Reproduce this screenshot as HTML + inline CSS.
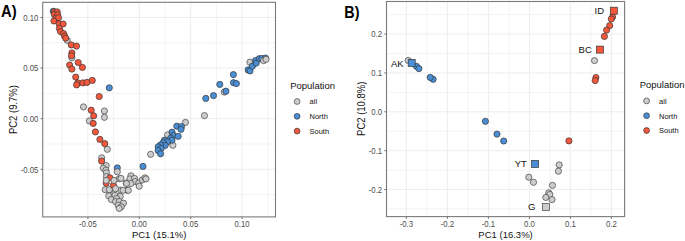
<!DOCTYPE html>
<html><head><meta charset="utf-8"><style>
html,body{margin:0;padding:0;background:#fff;}
body{width:685px;height:241px;overflow:hidden;}
svg{display:block;}
text{font-family:"Liberation Sans",sans-serif;}
.tk{font-size:7.8px;fill:#4d4d4d;}
.at{font-size:9.5px;fill:#111;}
.lt{font-size:7.45px;fill:#111;}
.lab{font-size:9.5px;fill:#111;}
.tag{font-size:16px;font-weight:bold;fill:#000;}
</style></head><body>
<svg width="685" height="241" viewBox="0 0 685 241">
<rect width="685" height="241" fill="#fff"/>
<rect x="42.7" y="2.3" width="232.8" height="214.6" fill="#fff"/>
<line x1="62.20" y1="2.3" x2="62.20" y2="216.9" stroke="#EFEFEF" stroke-width="0.75"/>
<line x1="113.60" y1="2.3" x2="113.60" y2="216.9" stroke="#EFEFEF" stroke-width="0.75"/>
<line x1="165.00" y1="2.3" x2="165.00" y2="216.9" stroke="#EFEFEF" stroke-width="0.75"/>
<line x1="216.40" y1="2.3" x2="216.40" y2="216.9" stroke="#EFEFEF" stroke-width="0.75"/>
<line x1="267.80" y1="2.3" x2="267.80" y2="216.9" stroke="#EFEFEF" stroke-width="0.75"/>
<line x1="42.7" y1="194.60" x2="275.5" y2="194.60" stroke="#EFEFEF" stroke-width="0.75"/>
<line x1="42.7" y1="144.00" x2="275.5" y2="144.00" stroke="#EFEFEF" stroke-width="0.75"/>
<line x1="42.7" y1="93.40" x2="275.5" y2="93.40" stroke="#EFEFEF" stroke-width="0.75"/>
<line x1="42.7" y1="42.80" x2="275.5" y2="42.80" stroke="#EFEFEF" stroke-width="0.75"/>
<line x1="87.90" y1="2.3" x2="87.90" y2="216.9" stroke="#EBEBEB" stroke-width="0.9"/>
<line x1="139.30" y1="2.3" x2="139.30" y2="216.9" stroke="#EBEBEB" stroke-width="0.9"/>
<line x1="190.70" y1="2.3" x2="190.70" y2="216.9" stroke="#EBEBEB" stroke-width="0.9"/>
<line x1="242.10" y1="2.3" x2="242.10" y2="216.9" stroke="#EBEBEB" stroke-width="0.9"/>
<line x1="42.7" y1="169.30" x2="275.5" y2="169.30" stroke="#EBEBEB" stroke-width="0.9"/>
<line x1="42.7" y1="118.70" x2="275.5" y2="118.70" stroke="#EBEBEB" stroke-width="0.9"/>
<line x1="42.7" y1="68.10" x2="275.5" y2="68.10" stroke="#EBEBEB" stroke-width="0.9"/>
<line x1="42.7" y1="17.50" x2="275.5" y2="17.50" stroke="#EBEBEB" stroke-width="0.9"/>
<rect x="386.5" y="1.5" width="238.10000000000002" height="215.1" fill="#fff"/>
<line x1="426.90" y1="1.5" x2="426.90" y2="216.6" stroke="#EFEFEF" stroke-width="0.75"/>
<line x1="467.90" y1="1.5" x2="467.90" y2="216.6" stroke="#EFEFEF" stroke-width="0.75"/>
<line x1="508.90" y1="1.5" x2="508.90" y2="216.6" stroke="#EFEFEF" stroke-width="0.75"/>
<line x1="549.90" y1="1.5" x2="549.90" y2="216.6" stroke="#EFEFEF" stroke-width="0.75"/>
<line x1="590.90" y1="1.5" x2="590.90" y2="216.6" stroke="#EFEFEF" stroke-width="0.75"/>
<line x1="386.5" y1="208.93" x2="624.6" y2="208.93" stroke="#EFEFEF" stroke-width="0.75"/>
<line x1="386.5" y1="170.07" x2="624.6" y2="170.07" stroke="#EFEFEF" stroke-width="0.75"/>
<line x1="386.5" y1="131.22" x2="624.6" y2="131.22" stroke="#EFEFEF" stroke-width="0.75"/>
<line x1="386.5" y1="92.38" x2="624.6" y2="92.38" stroke="#EFEFEF" stroke-width="0.75"/>
<line x1="386.5" y1="53.52" x2="624.6" y2="53.52" stroke="#EFEFEF" stroke-width="0.75"/>
<line x1="386.5" y1="14.67" x2="624.6" y2="14.67" stroke="#EFEFEF" stroke-width="0.75"/>
<line x1="406.40" y1="1.5" x2="406.40" y2="216.6" stroke="#EBEBEB" stroke-width="0.9"/>
<line x1="447.40" y1="1.5" x2="447.40" y2="216.6" stroke="#EBEBEB" stroke-width="0.9"/>
<line x1="488.40" y1="1.5" x2="488.40" y2="216.6" stroke="#EBEBEB" stroke-width="0.9"/>
<line x1="529.40" y1="1.5" x2="529.40" y2="216.6" stroke="#EBEBEB" stroke-width="0.9"/>
<line x1="570.40" y1="1.5" x2="570.40" y2="216.6" stroke="#EBEBEB" stroke-width="0.9"/>
<line x1="611.40" y1="1.5" x2="611.40" y2="216.6" stroke="#EBEBEB" stroke-width="0.9"/>
<line x1="386.5" y1="189.50" x2="624.6" y2="189.50" stroke="#EBEBEB" stroke-width="0.9"/>
<line x1="386.5" y1="150.65" x2="624.6" y2="150.65" stroke="#EBEBEB" stroke-width="0.9"/>
<line x1="386.5" y1="111.80" x2="624.6" y2="111.80" stroke="#EBEBEB" stroke-width="0.9"/>
<line x1="386.5" y1="72.95" x2="624.6" y2="72.95" stroke="#EBEBEB" stroke-width="0.9"/>
<line x1="386.5" y1="34.10" x2="624.6" y2="34.10" stroke="#EBEBEB" stroke-width="0.9"/>
<g>
<circle cx="67.2" cy="40.3" r="3.1" fill="#CDCDCD" stroke="#444444" stroke-width="0.7"/>
<circle cx="71.9" cy="57.8" r="3.1" fill="#CDCDCD" stroke="#444444" stroke-width="0.7"/>
<circle cx="83.5" cy="106.9" r="3.1" fill="#CDCDCD" stroke="#444444" stroke-width="0.7"/>
<circle cx="104.4" cy="111" r="3.1" fill="#CDCDCD" stroke="#444444" stroke-width="0.7"/>
<circle cx="104.4" cy="117.3" r="3.1" fill="#CDCDCD" stroke="#444444" stroke-width="0.7"/>
<circle cx="89.4" cy="120.9" r="3.1" fill="#CDCDCD" stroke="#444444" stroke-width="0.7"/>
<circle cx="107.3" cy="149.3" r="3.1" fill="#CDCDCD" stroke="#444444" stroke-width="0.7"/>
<circle cx="101.7" cy="157.8" r="3.1" fill="#CDCDCD" stroke="#444444" stroke-width="0.7"/>
<circle cx="106.2" cy="165.6" r="3.1" fill="#CDCDCD" stroke="#444444" stroke-width="0.7"/>
<circle cx="103.3" cy="168.2" r="3.1" fill="#CDCDCD" stroke="#444444" stroke-width="0.7"/>
<circle cx="105.9" cy="170.2" r="3.1" fill="#CDCDCD" stroke="#444444" stroke-width="0.7"/>
<circle cx="106.4" cy="172.8" r="3.1" fill="#CDCDCD" stroke="#444444" stroke-width="0.7"/>
<circle cx="106.5" cy="176.5" r="3.1" fill="#CDCDCD" stroke="#444444" stroke-width="0.7"/>
<circle cx="119.2" cy="178.8" r="3.1" fill="#CDCDCD" stroke="#444444" stroke-width="0.7"/>
<circle cx="121" cy="178.4" r="3.1" fill="#CDCDCD" stroke="#444444" stroke-width="0.7"/>
<circle cx="105.2" cy="189.7" r="3.1" fill="#CDCDCD" stroke="#444444" stroke-width="0.7"/>
<circle cx="109.9" cy="190.2" r="3.1" fill="#CDCDCD" stroke="#444444" stroke-width="0.7"/>
<circle cx="120.8" cy="190.2" r="3.1" fill="#CDCDCD" stroke="#444444" stroke-width="0.7"/>
<circle cx="127" cy="190.2" r="3.1" fill="#CDCDCD" stroke="#444444" stroke-width="0.7"/>
<circle cx="123.1" cy="190.3" r="3.1" fill="#CDCDCD" stroke="#444444" stroke-width="0.7"/>
<circle cx="128.3" cy="190.3" r="3.1" fill="#CDCDCD" stroke="#444444" stroke-width="0.7"/>
<circle cx="109.3" cy="189.7" r="3.1" fill="#CDCDCD" stroke="#444444" stroke-width="0.7"/>
<circle cx="108.8" cy="195.9" r="3.1" fill="#CDCDCD" stroke="#444444" stroke-width="0.7"/>
<circle cx="115" cy="195.4" r="3.1" fill="#CDCDCD" stroke="#444444" stroke-width="0.7"/>
<circle cx="120.2" cy="196.4" r="3.1" fill="#CDCDCD" stroke="#444444" stroke-width="0.7"/>
<circle cx="111.4" cy="199.5" r="3.1" fill="#CDCDCD" stroke="#444444" stroke-width="0.7"/>
<circle cx="116.6" cy="198.5" r="3.1" fill="#CDCDCD" stroke="#444444" stroke-width="0.7"/>
<circle cx="115.6" cy="201.6" r="3.1" fill="#CDCDCD" stroke="#444444" stroke-width="0.7"/>
<circle cx="119.2" cy="201.6" r="3.1" fill="#CDCDCD" stroke="#444444" stroke-width="0.7"/>
<circle cx="123.4" cy="203.2" r="3.1" fill="#CDCDCD" stroke="#444444" stroke-width="0.7"/>
<circle cx="118.2" cy="205.2" r="3.1" fill="#CDCDCD" stroke="#444444" stroke-width="0.7"/>
<circle cx="121.3" cy="206.8" r="3.1" fill="#CDCDCD" stroke="#444444" stroke-width="0.7"/>
<circle cx="119.2" cy="208.4" r="3.1" fill="#CDCDCD" stroke="#444444" stroke-width="0.7"/>
<circle cx="130.9" cy="175.8" r="3.1" fill="#CDCDCD" stroke="#444444" stroke-width="0.7"/>
<circle cx="129.9" cy="178.9" r="3.1" fill="#CDCDCD" stroke="#444444" stroke-width="0.7"/>
<circle cx="134.5" cy="178.4" r="3.1" fill="#CDCDCD" stroke="#444444" stroke-width="0.7"/>
<circle cx="135.1" cy="181.5" r="3.1" fill="#CDCDCD" stroke="#444444" stroke-width="0.7"/>
<circle cx="126.2" cy="183.1" r="3.1" fill="#CDCDCD" stroke="#444444" stroke-width="0.7"/>
<circle cx="130.9" cy="183.6" r="3.1" fill="#CDCDCD" stroke="#444444" stroke-width="0.7"/>
<circle cx="138.7" cy="183.1" r="3.1" fill="#CDCDCD" stroke="#444444" stroke-width="0.7"/>
<circle cx="139.2" cy="186.2" r="3.1" fill="#CDCDCD" stroke="#444444" stroke-width="0.7"/>
<circle cx="142.3" cy="179.9" r="3.1" fill="#CDCDCD" stroke="#444444" stroke-width="0.7"/>
<circle cx="144.9" cy="177.9" r="3.1" fill="#CDCDCD" stroke="#444444" stroke-width="0.7"/>
<circle cx="146" cy="178.9" r="3.1" fill="#CDCDCD" stroke="#444444" stroke-width="0.7"/>
<circle cx="126.5" cy="183.5" r="3.1" fill="#CDCDCD" stroke="#444444" stroke-width="0.7"/>
<circle cx="150.6" cy="154.3" r="3.1" fill="#CDCDCD" stroke="#444444" stroke-width="0.7"/>
<circle cx="167.6" cy="134.8" r="3.1" fill="#CDCDCD" stroke="#444444" stroke-width="0.7"/>
<circle cx="172.9" cy="145.3" r="3.1" fill="#CDCDCD" stroke="#444444" stroke-width="0.7"/>
<circle cx="185.5" cy="122.4" r="3.1" fill="#CDCDCD" stroke="#444444" stroke-width="0.7"/>
<circle cx="204.5" cy="115.6" r="3.1" fill="#CDCDCD" stroke="#444444" stroke-width="0.7"/>
<circle cx="224.3" cy="92.1" r="3.1" fill="#CDCDCD" stroke="#444444" stroke-width="0.7"/>
<circle cx="249.9" cy="62.2" r="3.1" fill="#CDCDCD" stroke="#444444" stroke-width="0.7"/>
<circle cx="53.3" cy="11.3" r="3.1" fill="#4A8FD6" stroke="#333333" stroke-width="0.7"/>
<circle cx="109.3" cy="87.8" r="3.1" fill="#4A8FD6" stroke="#333333" stroke-width="0.7"/>
<circle cx="117.3" cy="167.9" r="3.1" fill="#4A8FD6" stroke="#333333" stroke-width="0.7"/>
<circle cx="143" cy="166.4" r="3.1" fill="#4A8FD6" stroke="#333333" stroke-width="0.7"/>
<circle cx="176.8" cy="126.2" r="3.1" fill="#4A8FD6" stroke="#333333" stroke-width="0.7"/>
<circle cx="181.5" cy="126.6" r="3.1" fill="#4A8FD6" stroke="#333333" stroke-width="0.7"/>
<circle cx="181.0" cy="129.3" r="3.1" fill="#4A8FD6" stroke="#333333" stroke-width="0.7"/>
<circle cx="172" cy="132.2" r="3.1" fill="#4A8FD6" stroke="#333333" stroke-width="0.7"/>
<circle cx="173.4" cy="135.5" r="3.1" fill="#4A8FD6" stroke="#333333" stroke-width="0.7"/>
<circle cx="178.2" cy="136.3" r="3.1" fill="#4A8FD6" stroke="#333333" stroke-width="0.7"/>
<circle cx="170.7" cy="138.2" r="3.1" fill="#4A8FD6" stroke="#333333" stroke-width="0.7"/>
<circle cx="172" cy="140.2" r="3.1" fill="#4A8FD6" stroke="#333333" stroke-width="0.7"/>
<circle cx="164.5" cy="140.2" r="3.1" fill="#4A8FD6" stroke="#333333" stroke-width="0.7"/>
<circle cx="167.4" cy="141.8" r="3.1" fill="#4A8FD6" stroke="#333333" stroke-width="0.7"/>
<circle cx="163.2" cy="142.7" r="3.1" fill="#4A8FD6" stroke="#333333" stroke-width="0.7"/>
<circle cx="165.2" cy="145.4" r="3.1" fill="#4A8FD6" stroke="#333333" stroke-width="0.7"/>
<circle cx="160.6" cy="144.9" r="3.1" fill="#4A8FD6" stroke="#333333" stroke-width="0.7"/>
<circle cx="158.2" cy="146.8" r="3.1" fill="#4A8FD6" stroke="#333333" stroke-width="0.7"/>
<circle cx="161.2" cy="148.5" r="3.1" fill="#4A8FD6" stroke="#333333" stroke-width="0.7"/>
<circle cx="158.1" cy="150.5" r="3.1" fill="#4A8FD6" stroke="#333333" stroke-width="0.7"/>
<circle cx="160.6" cy="153.8" r="3.1" fill="#4A8FD6" stroke="#333333" stroke-width="0.7"/>
<circle cx="205.8" cy="98.4" r="3.1" fill="#4A8FD6" stroke="#333333" stroke-width="0.7"/>
<circle cx="213.5" cy="95.6" r="3.1" fill="#4A8FD6" stroke="#333333" stroke-width="0.7"/>
<circle cx="219.8" cy="84.4" r="3.1" fill="#4A8FD6" stroke="#333333" stroke-width="0.7"/>
<circle cx="225.9" cy="91.2" r="3.1" fill="#4A8FD6" stroke="#333333" stroke-width="0.7"/>
<circle cx="233.4" cy="74.6" r="3.1" fill="#4A8FD6" stroke="#333333" stroke-width="0.7"/>
<circle cx="233.5" cy="82.7" r="3.1" fill="#4A8FD6" stroke="#333333" stroke-width="0.7"/>
<circle cx="236.4" cy="83.6" r="3.1" fill="#4A8FD6" stroke="#333333" stroke-width="0.7"/>
<circle cx="248.1" cy="69.9" r="3.1" fill="#4A8FD6" stroke="#333333" stroke-width="0.7"/>
<circle cx="250" cy="70.9" r="3.1" fill="#4A8FD6" stroke="#333333" stroke-width="0.7"/>
<circle cx="252.4" cy="66.2" r="3.1" fill="#4A8FD6" stroke="#333333" stroke-width="0.7"/>
<circle cx="255.5" cy="60.6" r="3.1" fill="#4A8FD6" stroke="#333333" stroke-width="0.7"/>
<circle cx="256.2" cy="63.1" r="3.1" fill="#4A8FD6" stroke="#333333" stroke-width="0.7"/>
<circle cx="259.3" cy="58.7" r="3.1" fill="#4A8FD6" stroke="#333333" stroke-width="0.7"/>
<circle cx="261.8" cy="58.5" r="3.1" fill="#4A8FD6" stroke="#333333" stroke-width="0.7"/>
<circle cx="265.5" cy="58.1" r="3.1" fill="#4A8FD6" stroke="#333333" stroke-width="0.7"/>
<circle cx="54.3" cy="11.9" r="3.1" fill="#F4583C" stroke="#333333" stroke-width="0.7"/>
<circle cx="57.2" cy="11.9" r="3.1" fill="#F4583C" stroke="#333333" stroke-width="0.7"/>
<circle cx="54.3" cy="14.4" r="3.1" fill="#F4583C" stroke="#333333" stroke-width="0.7"/>
<circle cx="57.6" cy="14.8" r="3.1" fill="#F4583C" stroke="#333333" stroke-width="0.7"/>
<circle cx="56" cy="18.1" r="3.1" fill="#F4583C" stroke="#333333" stroke-width="0.7"/>
<circle cx="58.5" cy="17.7" r="3.1" fill="#F4583C" stroke="#333333" stroke-width="0.7"/>
<circle cx="53.9" cy="21" r="3.1" fill="#F4583C" stroke="#333333" stroke-width="0.7"/>
<circle cx="59.1" cy="23.8" r="3.1" fill="#F4583C" stroke="#333333" stroke-width="0.7"/>
<circle cx="63.1" cy="24" r="3.1" fill="#F4583C" stroke="#333333" stroke-width="0.7"/>
<circle cx="59.4" cy="28.4" r="3.1" fill="#F4583C" stroke="#333333" stroke-width="0.7"/>
<circle cx="60.5" cy="31.5" r="3.1" fill="#F4583C" stroke="#333333" stroke-width="0.7"/>
<circle cx="63.6" cy="33.6" r="3.1" fill="#F4583C" stroke="#333333" stroke-width="0.7"/>
<circle cx="64.6" cy="36.2" r="3.1" fill="#F4583C" stroke="#333333" stroke-width="0.7"/>
<circle cx="65.7" cy="38.2" r="3.1" fill="#F4583C" stroke="#333333" stroke-width="0.7"/>
<circle cx="71.2" cy="44.9" r="3.1" fill="#F4583C" stroke="#333333" stroke-width="0.7"/>
<circle cx="76.5" cy="46.1" r="3.1" fill="#F4583C" stroke="#333333" stroke-width="0.7"/>
<circle cx="71.9" cy="52.9" r="3.1" fill="#F4583C" stroke="#333333" stroke-width="0.7"/>
<circle cx="71.5" cy="55.7" r="3.1" fill="#F4583C" stroke="#333333" stroke-width="0.7"/>
<circle cx="78.2" cy="62.5" r="3.1" fill="#F4583C" stroke="#333333" stroke-width="0.7"/>
<circle cx="69.6" cy="65" r="3.1" fill="#F4583C" stroke="#333333" stroke-width="0.7"/>
<circle cx="82.4" cy="67.4" r="3.1" fill="#F4583C" stroke="#333333" stroke-width="0.7"/>
<circle cx="71.9" cy="69.1" r="3.1" fill="#F4583C" stroke="#333333" stroke-width="0.7"/>
<circle cx="75.7" cy="77.1" r="3.1" fill="#F4583C" stroke="#333333" stroke-width="0.7"/>
<circle cx="77.9" cy="82.9" r="3.1" fill="#F4583C" stroke="#333333" stroke-width="0.7"/>
<circle cx="76.6" cy="84.9" r="3.1" fill="#F4583C" stroke="#333333" stroke-width="0.7"/>
<circle cx="82.9" cy="82.9" r="3.1" fill="#F4583C" stroke="#333333" stroke-width="0.7"/>
<circle cx="87" cy="82.4" r="3.1" fill="#F4583C" stroke="#333333" stroke-width="0.7"/>
<circle cx="92.3" cy="80.4" r="3.1" fill="#F4583C" stroke="#333333" stroke-width="0.7"/>
<circle cx="99.2" cy="96.5" r="3.1" fill="#F4583C" stroke="#333333" stroke-width="0.7"/>
<circle cx="91.2" cy="110.2" r="3.1" fill="#F4583C" stroke="#333333" stroke-width="0.7"/>
<circle cx="93.7" cy="115.8" r="3.1" fill="#F4583C" stroke="#333333" stroke-width="0.7"/>
<circle cx="93.2" cy="123.4" r="3.1" fill="#F4583C" stroke="#333333" stroke-width="0.7"/>
<circle cx="95.4" cy="131.9" r="3.1" fill="#F4583C" stroke="#333333" stroke-width="0.7"/>
<circle cx="99.9" cy="139.4" r="3.1" fill="#F4583C" stroke="#333333" stroke-width="0.7"/>
<circle cx="104.8" cy="143.7" r="3.1" fill="#F4583C" stroke="#333333" stroke-width="0.7"/>
<circle cx="101.6" cy="161.1" r="3.1" fill="#F4583C" stroke="#333333" stroke-width="0.7"/>
<circle cx="109.9" cy="177.8" r="3.1" fill="#F4583C" stroke="#333333" stroke-width="0.7"/>
<circle cx="106.2" cy="183.2" r="3.1" fill="#F4583C" stroke="#333333" stroke-width="0.7"/>
<circle cx="113.5" cy="185.3" r="3.1" fill="#F4583C" stroke="#333333" stroke-width="0.7"/>
<circle cx="263.6" cy="60.6" r="3.1" fill="#CDCDCD" stroke="#444444" stroke-width="0.7"/>
<circle cx="266.1" cy="59.3" r="3.1" fill="#CDCDCD" stroke="#444444" stroke-width="0.7"/>
<circle cx="117.3" cy="171.8" r="3.1" fill="#CDCDCD" stroke="#444444" stroke-width="0.7"/>
<circle cx="106.2" cy="180.4" r="3.1" fill="#CDCDCD" stroke="#444444" stroke-width="0.7"/>
<circle cx="114" cy="180.4" r="3.1" fill="#CDCDCD" stroke="#444444" stroke-width="0.7"/>
<circle cx="115.6" cy="188.7" r="3.1" fill="#CDCDCD" stroke="#444444" stroke-width="0.7"/>
</g><g>
<circle cx="408.2" cy="60.4" r="3.1" fill="#CDCDCD" stroke="#444444" stroke-width="0.7"/>
<circle cx="559.2" cy="164.9" r="3.1" fill="#CDCDCD" stroke="#444444" stroke-width="0.7"/>
<circle cx="558.4" cy="171.2" r="3.1" fill="#CDCDCD" stroke="#444444" stroke-width="0.7"/>
<circle cx="528.8" cy="177.2" r="3.1" fill="#CDCDCD" stroke="#444444" stroke-width="0.7"/>
<circle cx="533.5" cy="182.3" r="3.1" fill="#CDCDCD" stroke="#444444" stroke-width="0.7"/>
<circle cx="552.5" cy="185.4" r="3.1" fill="#CDCDCD" stroke="#444444" stroke-width="0.7"/>
<circle cx="548.7" cy="192.8" r="3.1" fill="#CDCDCD" stroke="#444444" stroke-width="0.7"/>
<circle cx="549.8" cy="194.5" r="3.1" fill="#CDCDCD" stroke="#444444" stroke-width="0.7"/>
<circle cx="545.8" cy="197.4" r="3.1" fill="#CDCDCD" stroke="#444444" stroke-width="0.7"/>
<circle cx="552" cy="199.6" r="3.1" fill="#CDCDCD" stroke="#444444" stroke-width="0.7"/>
<circle cx="594.5" cy="60.6" r="3.1" fill="#CDCDCD" stroke="#444444" stroke-width="0.7"/>
<circle cx="416.4" cy="66.3" r="3.1" fill="#4A8FD6" stroke="#333333" stroke-width="0.7"/>
<circle cx="418.9" cy="68.6" r="3.1" fill="#4A8FD6" stroke="#333333" stroke-width="0.7"/>
<circle cx="433.1" cy="79.3" r="3.1" fill="#4A8FD6" stroke="#333333" stroke-width="0.7"/>
<circle cx="430.2" cy="77.4" r="3.1" fill="#4A8FD6" stroke="#333333" stroke-width="0.7"/>
<circle cx="485.4" cy="121.3" r="3.1" fill="#4A8FD6" stroke="#333333" stroke-width="0.7"/>
<circle cx="497" cy="134.1" r="3.1" fill="#4A8FD6" stroke="#333333" stroke-width="0.7"/>
<circle cx="503.7" cy="141" r="3.1" fill="#4A8FD6" stroke="#333333" stroke-width="0.7"/>
<circle cx="612.6" cy="17" r="3.1" fill="#F4583C" stroke="#333333" stroke-width="0.7"/>
<circle cx="611.3" cy="19" r="3.1" fill="#F4583C" stroke="#333333" stroke-width="0.7"/>
<circle cx="609.7" cy="25.6" r="3.1" fill="#F4583C" stroke="#333333" stroke-width="0.7"/>
<circle cx="606.6" cy="30.1" r="3.1" fill="#F4583C" stroke="#333333" stroke-width="0.7"/>
<circle cx="604.4" cy="36.4" r="3.1" fill="#F4583C" stroke="#333333" stroke-width="0.7"/>
<circle cx="595.9" cy="77.5" r="3.1" fill="#F4583C" stroke="#333333" stroke-width="0.7"/>
<circle cx="595.2" cy="80.6" r="3.1" fill="#F4583C" stroke="#333333" stroke-width="0.7"/>
<circle cx="568.9" cy="140.9" r="3.1" fill="#F4583C" stroke="#333333" stroke-width="0.7"/>
<rect x="408.20" y="59.45" width="7.0" height="7.0" fill="#4A8FD6" stroke="#333333" stroke-width="0.7"/>
<rect x="531.60" y="160.50" width="7.0" height="7.0" fill="#4A8FD6" stroke="#333333" stroke-width="0.7"/>
<rect x="542.40" y="203.40" width="7.0" height="7.0" fill="#CDCDCD" stroke="#444444" stroke-width="0.7"/>
<rect x="610.30" y="7.20" width="7.0" height="7.0" fill="#F4583C" stroke="#333333" stroke-width="0.7"/>
<rect x="596.40" y="46.10" width="7.0" height="7.0" fill="#F4583C" stroke="#333333" stroke-width="0.7"/>
<text transform="translate(403.60 66.50) scale(1.0 1.05)" text-anchor="end" class="lab">AK</text>
<text transform="translate(526.80 167.10) scale(1.0 1.05)" text-anchor="end" class="lab">YT</text>
<text transform="translate(535.40 210.10) scale(1.0 1.05)" text-anchor="end" class="lab">G</text>
<text transform="translate(604.10 14.30) scale(1.0 1.05)" text-anchor="end" class="lab">ID</text>
<text transform="translate(591.80 53.00) scale(1.0 1.05)" text-anchor="end" class="lab">BC</text>
</g>
<line x1="87.90" y1="216.9" x2="87.90" y2="219.0" stroke="#555" stroke-width="0.9"/>
<text transform="translate(87.90 226.90) scale(1.0 1.1)" text-anchor="middle" class="tk">-0.05</text>
<line x1="139.30" y1="216.9" x2="139.30" y2="219.0" stroke="#555" stroke-width="0.9"/>
<text transform="translate(139.30 226.90) scale(1.0 1.1)" text-anchor="middle" class="tk">0.00</text>
<line x1="190.70" y1="216.9" x2="190.70" y2="219.0" stroke="#555" stroke-width="0.9"/>
<text transform="translate(190.70 226.90) scale(1.0 1.1)" text-anchor="middle" class="tk">0.05</text>
<line x1="242.10" y1="216.9" x2="242.10" y2="219.0" stroke="#555" stroke-width="0.9"/>
<text transform="translate(242.10 226.90) scale(1.0 1.1)" text-anchor="middle" class="tk">0.10</text>
<line x1="40.6" y1="169.30" x2="42.7" y2="169.30" stroke="#555" stroke-width="0.9"/>
<text transform="translate(38.40 172.60) scale(1.0 1.1)" text-anchor="end" class="tk">-0.05</text>
<line x1="40.6" y1="118.70" x2="42.7" y2="118.70" stroke="#555" stroke-width="0.9"/>
<text transform="translate(38.40 122.00) scale(1.0 1.1)" text-anchor="end" class="tk">0.00</text>
<line x1="40.6" y1="68.10" x2="42.7" y2="68.10" stroke="#555" stroke-width="0.9"/>
<text transform="translate(38.40 71.40) scale(1.0 1.1)" text-anchor="end" class="tk">0.05</text>
<line x1="40.6" y1="17.50" x2="42.7" y2="17.50" stroke="#555" stroke-width="0.9"/>
<text transform="translate(38.40 20.80) scale(1.0 1.1)" text-anchor="end" class="tk">0.10</text>
<rect x="42.7" y="2.3" width="232.8" height="214.6" fill="none" stroke="#7a7a7a" stroke-width="1.1"/>
<line x1="406.40" y1="216.6" x2="406.40" y2="218.7" stroke="#555" stroke-width="0.9"/>
<text transform="translate(406.40 226.90) scale(1.0 1.1)" text-anchor="middle" class="tk">-0.3</text>
<line x1="447.40" y1="216.6" x2="447.40" y2="218.7" stroke="#555" stroke-width="0.9"/>
<text transform="translate(447.40 226.90) scale(1.0 1.1)" text-anchor="middle" class="tk">-0.2</text>
<line x1="488.40" y1="216.6" x2="488.40" y2="218.7" stroke="#555" stroke-width="0.9"/>
<text transform="translate(488.40 226.90) scale(1.0 1.1)" text-anchor="middle" class="tk">-0.1</text>
<line x1="529.40" y1="216.6" x2="529.40" y2="218.7" stroke="#555" stroke-width="0.9"/>
<text transform="translate(529.40 226.90) scale(1.0 1.1)" text-anchor="middle" class="tk">0.0</text>
<line x1="570.40" y1="216.6" x2="570.40" y2="218.7" stroke="#555" stroke-width="0.9"/>
<text transform="translate(570.40 226.90) scale(1.0 1.1)" text-anchor="middle" class="tk">0.1</text>
<line x1="611.40" y1="216.6" x2="611.40" y2="218.7" stroke="#555" stroke-width="0.9"/>
<text transform="translate(611.40 226.90) scale(1.0 1.1)" text-anchor="middle" class="tk">0.2</text>
<line x1="384.4" y1="189.50" x2="386.5" y2="189.50" stroke="#555" stroke-width="0.9"/>
<text transform="translate(382.20 192.80) scale(1.0 1.1)" text-anchor="end" class="tk">-0.2</text>
<line x1="384.4" y1="150.65" x2="386.5" y2="150.65" stroke="#555" stroke-width="0.9"/>
<text transform="translate(382.20 153.95) scale(1.0 1.1)" text-anchor="end" class="tk">-0.1</text>
<line x1="384.4" y1="111.80" x2="386.5" y2="111.80" stroke="#555" stroke-width="0.9"/>
<text transform="translate(382.20 115.10) scale(1.0 1.1)" text-anchor="end" class="tk">0.0</text>
<line x1="384.4" y1="72.95" x2="386.5" y2="72.95" stroke="#555" stroke-width="0.9"/>
<text transform="translate(382.20 76.25) scale(1.0 1.1)" text-anchor="end" class="tk">0.1</text>
<line x1="384.4" y1="34.10" x2="386.5" y2="34.10" stroke="#555" stroke-width="0.9"/>
<text transform="translate(382.20 37.40) scale(1.0 1.1)" text-anchor="end" class="tk">0.2</text>
<rect x="386.5" y="1.5" width="238.10000000000002" height="215.1" fill="none" stroke="#7a7a7a" stroke-width="1.1"/>
<text transform="translate(159.10 237.70) scale(1.0 1.0)" text-anchor="middle" class="at">PC1 (15.1%)</text>
<text transform="translate(505.55 237.70) scale(1.0 1.0)" text-anchor="middle" class="at">PC1 (16.3%)</text>
<text transform="translate(17.20 109.60) rotate(-90) scale(1.0 1.08)" text-anchor="middle" class="at">PC2 (9.7%)</text>
<text transform="translate(365.00 108.75) rotate(-90) scale(1.0 1.08)" text-anchor="middle" class="at">PC2 (10.8%)</text>
<text transform="translate(1.0 16.7) scale(0.93 1.02)" class="tag">A)</text>
<text transform="translate(344.3 17.6) scale(0.9 1.02)" class="tag">B)</text>
<text transform="translate(290.20 88.60) scale(1.0 1.03)" text-anchor="start" class="at">Population</text>
<circle cx="297.1" cy="101.5" r="2.9" fill="#CDCDCD" stroke="#444444" stroke-width="0.7"/>
<text transform="translate(309.60 104.30) scale(1.0 1.0)" text-anchor="start" class="lt">all</text>
<circle cx="297.1" cy="116.3" r="2.9" fill="#4A8FD6" stroke="#333333" stroke-width="0.7"/>
<text transform="translate(309.60 119.10) scale(1.0 1.0)" text-anchor="start" class="lt">North</text>
<circle cx="297.1" cy="131.1" r="2.9" fill="#F4583C" stroke="#333333" stroke-width="0.7"/>
<text transform="translate(309.60 133.90) scale(1.0 1.0)" text-anchor="start" class="lt">South</text>
<text transform="translate(639.70 88.00) scale(1.0 1.03)" text-anchor="start" class="at">Population</text>
<circle cx="646.6" cy="100.9" r="2.9" fill="#CDCDCD" stroke="#444444" stroke-width="0.7"/>
<text transform="translate(659.10 103.70) scale(1.0 1.0)" text-anchor="start" class="lt">all</text>
<circle cx="646.6" cy="115.7" r="2.9" fill="#4A8FD6" stroke="#333333" stroke-width="0.7"/>
<text transform="translate(659.10 118.50) scale(1.0 1.0)" text-anchor="start" class="lt">North</text>
<circle cx="646.6" cy="130.5" r="2.9" fill="#F4583C" stroke="#333333" stroke-width="0.7"/>
<text transform="translate(659.10 133.30) scale(1.0 1.0)" text-anchor="start" class="lt">South</text>
</svg>
</body></html>
